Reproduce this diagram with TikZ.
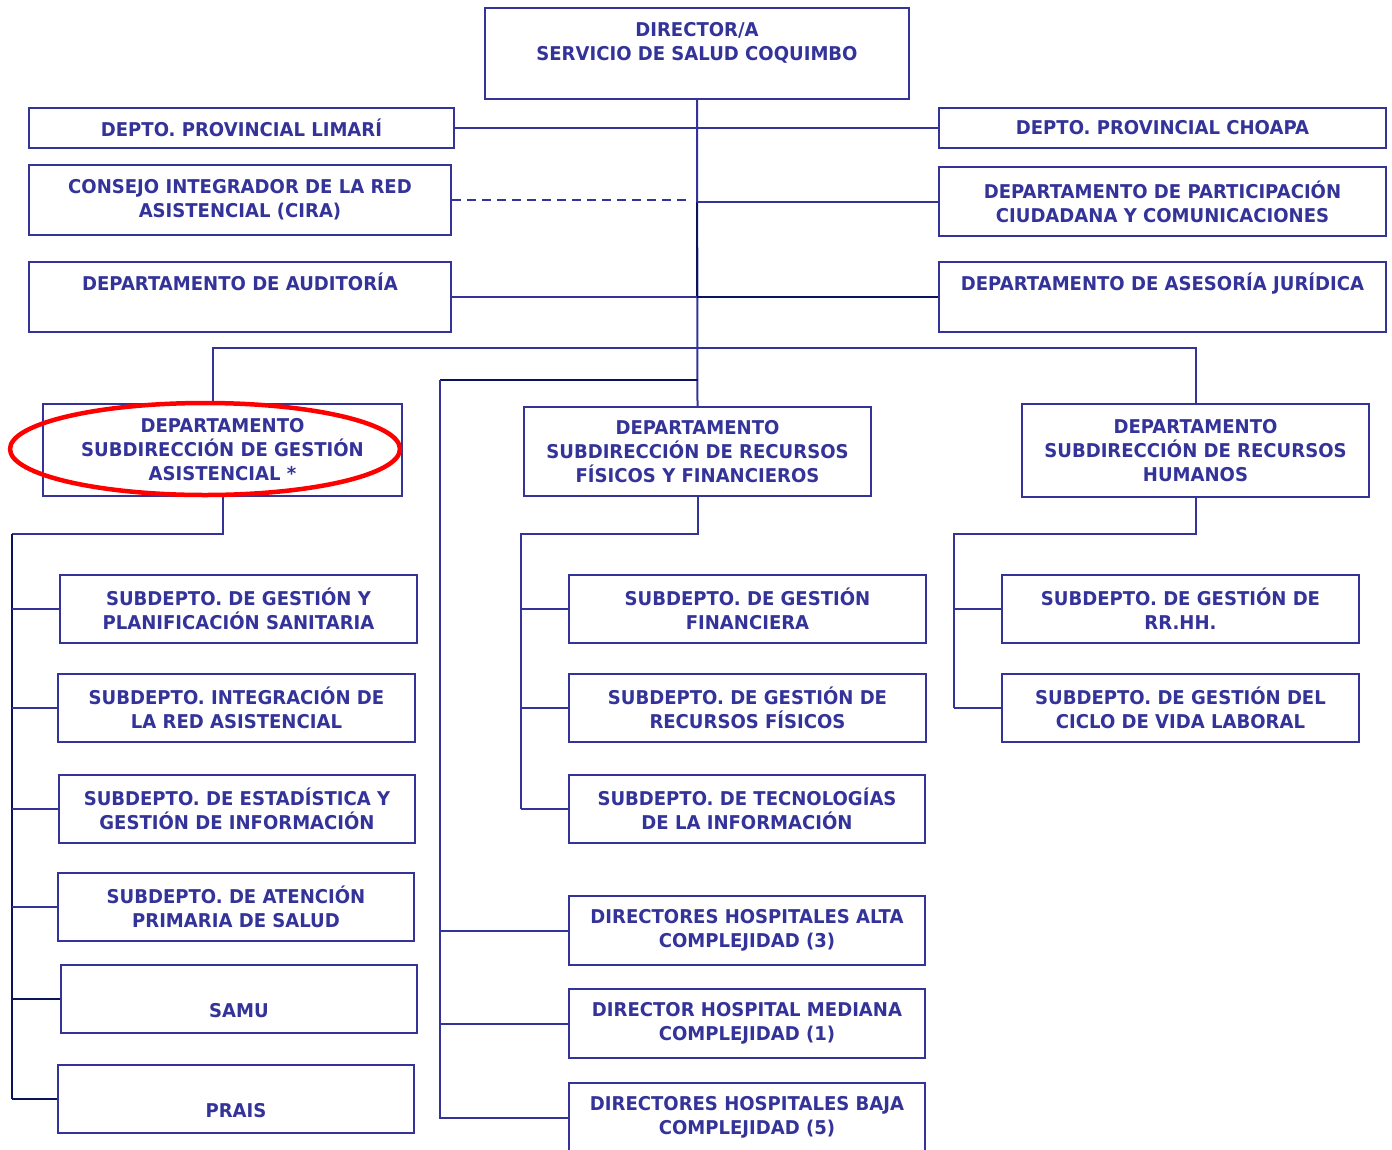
\documentclass[tikz,border=0pt]{standalone}
\usepackage{fontspec}
\usetikzlibrary{calc, positioning}
\newfontfamily\orgfont{DejaVu Sans}[FakeStretch=0.95]
\definecolor{orgblue}{RGB}{51,51,153}
\definecolor{orgnavy}{RGB}{10,20,90}
\def\boxfont{\orgfont\bfseries\fontsize{19}{24}\selectfont}
\def\boxline{2pt}
\tikzset{
% Unit box
unit/.style 2 args={
	draw=orgblue,
	line width=\boxline,
	text=orgblue,
	font=\boxfont,
	align=center,
	inner sep=0pt,
	anchor=north west,
	minimum width=#1,
	minimum height=#2,
	},
% Connection
link/.style={
	orgblue, line width=2pt,
	},
darklink/.style={
	orgnavy, line width=2pt,
	},
% Advisory
advisory/.style={
	orgblue, line width=2pt, dash pattern=on 9pt off 6pt,
	},
% Highlight
highlight/.style={
	red, line width=4.5pt,
	},
}

\begin{document}
\begin{tikzpicture}[x=1pt, y=-1pt]
		\useasboundingbox (0,0) rectangle (1392,1149);
		\clip (0,0) rectangle (1392,1149);

		% Director
		\node[unit={424pt}{91pt}] (director) at (484,7)
			 {DIRECTOR/A\\SERVICIO DE SALUD COQUIMBO\\\mbox{}};

		% Staff units
		\node[unit={425pt}{40pt}] (limari) at (28,107) {DEPTO. PROVINCIAL LIMARÍ};
		\node[unit={422pt}{70pt}] (cira) at (28,164) {CONSEJO INTEGRADOR DE LA RED\\ASISTENCIAL (CIRA)};
		\node[unit={422pt}{70pt}] (audit) at (28,261) {DEPARTAMENTO DE AUDITORÍA\\\strut};
		\node[unit={447pt}{40pt}] (choapa) at (938,107) {DEPTO. PROVINCIAL CHOAPA};
		\node[unit={447pt}{69pt}] (partic) at (938,166) {DEPARTAMENTO DE PARTICIPACIÓN\\CIUDADANA Y COMUNICACIONES};
		\node[unit={447pt}{70pt}] (juridica) at (938,261) {DEPARTAMENTO DE ASESORÍA JURÍDICA\\\strut};

		% Subdirections
		\node[unit={359pt}{92pt}] (asist) at (42,403) {DEPARTAMENTO\\SUBDIRECCIÓN DE GESTIÓN\\ASISTENCIAL *};
		\node[unit={347pt}{89pt}] (finan) at (523,406) {DEPARTAMENTO\\SUBDIRECCIÓN DE RECURSOS\\FÍSICOS Y FINANCIEROS};
		\node[unit={347pt}{93pt}] (rrhh) at (1021,403) {DEPARTAMENTO\\SUBDIRECCIÓN DE RECURSOS\\HUMANOS};

		% Gestion Asistencial units
		\node[unit={357pt}{68pt}] (gestplan) at (59,574) {SUBDEPTO. DE GESTIÓN Y\\PLANIFICACIÓN SANITARIA};
		\node[unit={357pt}{68pt}] (integr) at (57,673) {SUBDEPTO. INTEGRACIÓN DE\\LA RED ASISTENCIAL};
		\node[unit={356pt}{68pt}] (estad) at (58,774) {SUBDEPTO. DE ESTADÍSTICA Y\\GESTIÓN DE INFORMACIÓN};
		\node[unit={356pt}{68pt}] (aps) at (57,872) {SUBDEPTO. DE ATENCIÓN\\PRIMARIA DE SALUD};
		\node[unit={356pt}{68pt}] (samu) at (60,964) {\vphantom{S}\\SAMU};
		\node[unit={356pt}{68pt}] (prais) at (57,1064) {\vphantom{P}\\PRAIS};

		% Recursos Fisicos y Financieros units
		\node[unit={357pt}{68pt}] (gfin) at (568,574) {SUBDEPTO. DE GESTIÓN\\FINANCIERA};
		\node[unit={357pt}{68pt}] (grf) at (568,673) {SUBDEPTO. DE GESTIÓN DE\\RECURSOS FÍSICOS};
		\node[unit={356pt}{68pt}] (tic) at (568,774) {SUBDEPTO. DE TECNOLOGÍAS\\DE LA INFORMACIÓN};

		% Hospitals
		\node[unit={356pt}{69pt}] (alta) at (568,895) {DIRECTORES HOSPITALES ALTA\\COMPLEJIDAD (3)};
		\node[unit={356pt}{69pt}] (mediana) at (568,988) {DIRECTOR HOSPITAL MEDIANA\\COMPLEJIDAD (1)};
		\node[unit={356pt}{69pt}] (baja) at (568,1082) {DIRECTORES HOSPITALES BAJA\\COMPLEJIDAD (5)};

		% Recursos Humanos units
		\node[unit={357pt}{68pt}] (grh) at (1001,574) {SUBDEPTO. DE GESTIÓN DE\\RR.HH.};
		\node[unit={357pt}{68pt}] (ciclo) at (1001,673) {SUBDEPTO. DE GESTIÓN DEL\\CICLO DE VIDA LABORAL};

		% Bus points
		\coordinate (bar) at (696,348);
		\coordinate (hub) at (440,380);
		\coordinate (lbus) at (12,534);
		\coordinate (cbus) at (521,534);
		\coordinate (rbus) at (954,534);

		% Trunk and staff connections
		\draw[link] (director.south) -- (finan.north);
		\draw[darklink] (partic.west -| director.south) -- (juridica.west -| director.south);
		\draw[link] (limari.east) -- (limari.east -| director.south);
		\draw[link] (choapa.west) -- (choapa.west -| director.south);
		\draw[advisory] (cira.east) -- ([xshift=-6pt]cira.east -| director.south);
		\draw[link] (partic.west) -- (partic.west -| director.south);
		\draw[link] (audit.east) -- (audit.east -| director.south);
		\draw[darklink] (juridica.west) -- (juridica.west -| director.south);

		% Subdirection bar
		\draw[link] ([xshift=-9.5pt]asist.north) |- (rrhh.north |- bar) -- (rrhh.north);
		\draw[darklink] (finan.north |- hub) -- (hub);

		% Hospitals
		\draw[link] (hub) |- (baja.west);
		\draw[link] (hub |- alta.west) -- (alta.west);
		\draw[link] (hub |- mediana.west) -- (mediana.west);

		% Gestion Asistencial connections
		\draw[link] (asist.south) |- (lbus);
		\draw[darklink] (lbus) -- (lbus |- prais.west);
		\foreach \unitname in {gestplan, integr, estad, aps}
			\draw[link] (lbus |- \unitname.west) -- (\unitname.west);
		\foreach \unitname in {samu, prais}
			\draw[darklink] (lbus |- \unitname.west) -- (\unitname.west);

		% Recursos Fisicos y Financieros connections
		\draw[link] (finan.south) |- (cbus) -- (cbus |- tic.west);
		\foreach \unitname in {gfin, grf, tic}
			\draw[link] (cbus |- \unitname.west) -- (\unitname.west);

		% Recursos Humanos connections
		\draw[link] (rrhh.south) |- (rbus) -- (rbus |- ciclo.west);
		\foreach \unitname in {grh, ciclo}
			\draw[link] (rbus |- \unitname.west) -- (\unitname.west);

		% Highlight
		\draw[highlight] (205,449) ellipse [x radius=195, y radius=46];
	\end{tikzpicture}
\end{document}
